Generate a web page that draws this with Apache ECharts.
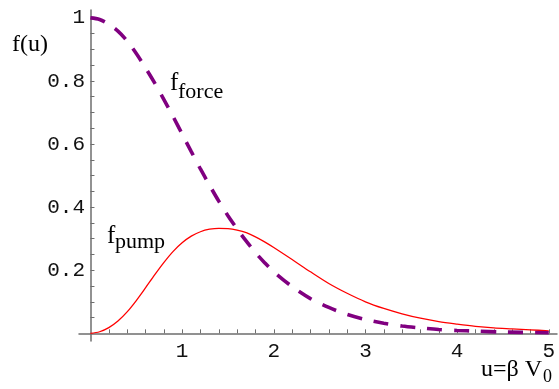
<!DOCTYPE html>
<html><head><meta charset="utf-8">
<script src="https://cdn.jsdelivr.net/npm/echarts@6/dist/echarts.min.js"></script>
<style>html,body{margin:0;padding:0;background:#fff}#c{width:559px;height:389px}</style>
</head><body><div id="c"></div>
<script>
// f_force (dashed purple)
const uForce = [0,0.1,0.2,0.3,0.4,0.5,0.6,0.7,0.8,0.9,1.0,1.1,1.2,1.3,1.4,1.5,1.6,1.7,1.8,1.9,2.0,2.2,2.4,2.6,2.8,3.0,3.2,3.4,3.6,3.8,4.0,4.2,4.5,5.0];
const fForce = [1.0,0.995,0.98,0.958,0.927,0.887,0.842,0.794,0.742,0.688,0.632,0.576,0.521,0.469,0.419,0.373,0.331,0.292,0.256,0.224,0.195,0.148,0.11,0.082,0.06,0.044,0.032,0.023,0.017,0.012,0.009,0.007,0.004,0.002];
// f_pump (solid red)
const uPump = [0,0.1,0.2,0.3,0.4,0.5,0.6,0.7,0.8,0.9,1.0,1.1,1.2,1.3,1.4,1.5,1.6,1.7,1.8,1.9,2.0,2.2,2.4,2.6,2.8,3.0,3.2,3.4,3.6,3.8,4.0,4.2,4.4,4.6,4.8,5.0];
const fPump = [0,0.005,0.018,0.039,0.068,0.104,0.144,0.185,0.224,0.259,0.287,0.308,0.322,0.33,0.333,0.332,0.327,0.319,0.306,0.29,0.272,0.234,0.195,0.158,0.127,0.1,0.079,0.062,0.048,0.037,0.029,0.022,0.017,0.014,0.011,0.008];
// ticks & labels
const xLabels = [1,2,3,4,5];
const xTicks = [0.2,0.4,0.6,0.8,1,1.2,1.4,1.6,1.8,2,2.2,2.4,2.6,2.8,3,3.2,3.4,3.6,3.8,4,4.2,4.4,4.6,4.8,5];
const yLabels = [0.2,0.4,0.6,0.8,1];
const yTicks = [0.05,0.1,0.15,0.2,0.25,0.3,0.35,0.4,0.45,0.5,0.55,0.6,0.65,0.7,0.75,0.8,0.85,0.9,0.95,1];

const zip = (a,b)=>a.map((v,i)=>[v,b[i]]);
const chart = echarts.init(document.getElementById('c'), null, {renderer:'canvas'});
const axisCol = '#6e6e6e';
const serif = '"Liberation Serif", "Times New Roman", serif';
const mono = '"Liberation Mono", "Courier New", monospace';
chart.setOption({
  animation:false,
  backgroundColor:'#fff',
  grid:{left:79,right:2,top:10,bottom:48.1,containLabel:false},
  xAxis:{type:'value',min:-0.125,max:5.09,
    axisLine:{onZero:true,lineStyle:{color:axisCol,width:1.5}},
    axisTick:{show:true,inside:true,length:4,customValues:xTicks,lineStyle:{color:axisCol,width:1}},
    axisLabel:{customValues:xLabels,margin:0,fontFamily:mono,fontSize:21,color:'#111',formatter:v=>String(v)},
    splitLine:{show:false}},
  yAxis:{type:'value',min:-0.024,max:1.025,
    axisLine:{onZero:true,lineStyle:{color:axisCol,width:1.5}},
    axisTick:{show:true,inside:true,length:4,customValues:yTicks,lineStyle:{color:axisCol,width:1}},
    axisLabel:{customValues:yLabels,margin:-6,fontFamily:mono,fontSize:21,color:'#111',formatter:v=>(v===1?'1':v.toFixed(1))},
    splitLine:{show:false}},
  series:[
    {type:'line',data:zip(uPump,fPump),smooth:0.3,showSymbol:false,lineStyle:{color:'#ff0000',width:1.3}},
    {type:'line',data:zip(uForce,fForce),smooth:0.3,showSymbol:false,lineStyle:{color:'#800080',width:3.6,type:[15,12],cap:'butt'}}
  ],
  graphic:[
    {type:'text',left:12,top:33,style:{text:'f(u)',font:'24px '+serif,fill:'#000'}},
    {type:'text',x:170,y:83.5,style:{text:'f',font:'25px '+serif,fill:'#000',verticalAlign:'middle'}},
    {type:'text',x:178,y:92.5,style:{text:'force',font:'22px '+serif,fill:'#000',verticalAlign:'middle'}},
    {type:'text',x:107,y:236.6,style:{text:'f',font:'25px '+serif,fill:'#000',verticalAlign:'middle'}},
    {type:'text',x:115,y:242.3,style:{text:'pump',font:'22px '+serif,fill:'#000',verticalAlign:'middle'}},
    {type:'text',x:481,y:369.8,style:{text:'u=\u03b2 V',font:'24px '+serif,fill:'#000',verticalAlign:'middle'}},
    {type:'text',x:543,y:377,style:{text:'0',font:'18px '+serif,fill:'#000',verticalAlign:'middle'}}
  ]
});
</script></body></html>
